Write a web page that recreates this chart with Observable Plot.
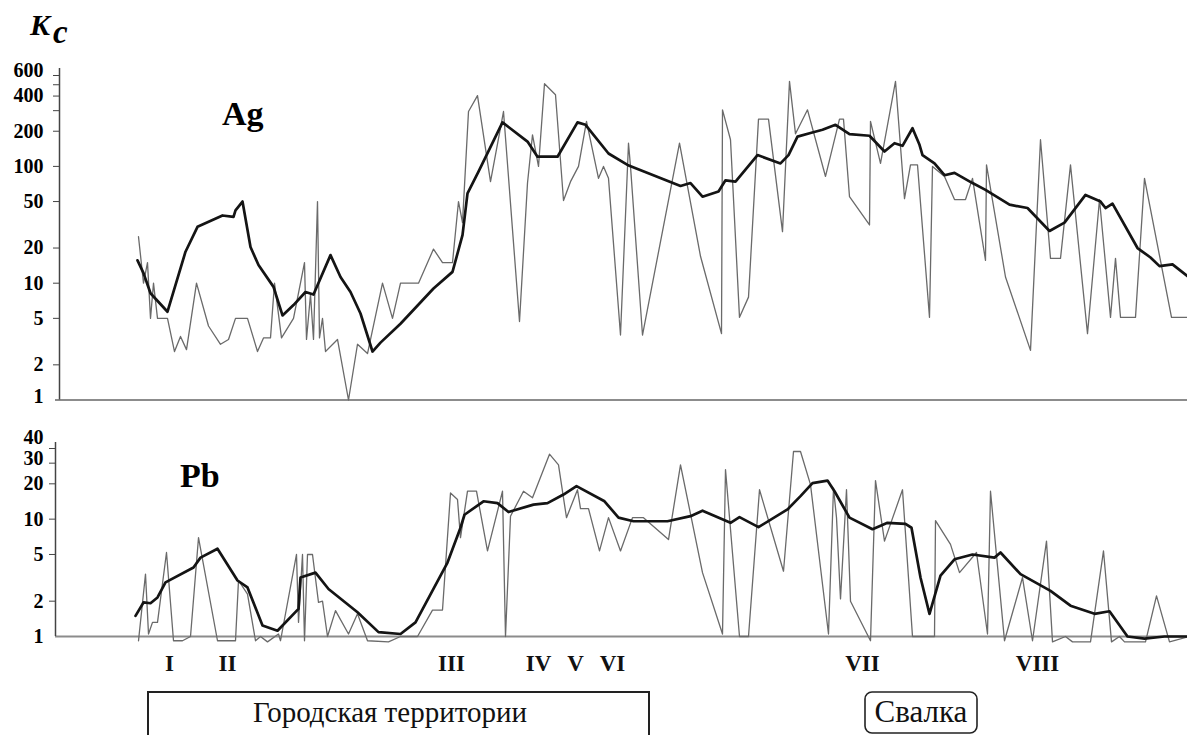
<!DOCTYPE html>
<html><head><meta charset="utf-8">
<script src="https://cdn.jsdelivr.net/npm/d3@7"></script>
<script src="https://cdn.jsdelivr.net/npm/@observablehq/plot@0.6"></script>
<style>
body{margin:0;background:#fff}
#wrap{position:relative;width:1187px;height:735px;overflow:hidden;background:#fff}
#wrap svg{position:absolute;left:0;overflow:visible}
</style></head><body><div id="wrap"></div>
<script>
// Profile position (arbitrary distance units along the sampling line)
const agThinX = [83,88,92,95,98,102,112,119,125,131,141,153,165,173,180,192,202,208,215,219,226,238,249,251,255,258,262,264,267,270,282,293,302,312,327,337,345,363,378,387,397,403,407,413,422,435,448,464,472,477,483,489,500,508,515,523,531,543,548,553,565,573,575,587,624,645,666,667,675,684,693,703,713,727,734,740,752,770,784,788,794,814,815,825,840,849,855,862,874,877,889,899,910,917,930,931,950,975,985,995,1005,1015,1032,1044,1055,1060,1065,1080,1089,1116,1132];
const agThinY = [25,10,15,5,10,5,5,2.6,3.5,2.7,10,4.3,3,3.3,5,5,2.6,3.4,3.4,10,3.4,5,15,3.3,8,3.3,50,3.4,5,2.6,3.3,1,3,2.5,10,5,10,10,19.6,15,15,50,33,295,403,74,295,4.7,72,186,100,510,410,51,74,100,243,79,100,79,3.6,158,100,3.6,158,17,3.7,305,169,5.1,7.6,254,254,27.6,535,190,305,82,254,254,55,31.5,243,106,535,53,103,103,5.1,100,82,52,52,79,15.7,103,11.3,2.66,169,16.3,16.3,103,3.7,52,5.1,16.3,5.1,5.1,79,5.1,5.1];

const agTrendX = [82,88,95,112,130,142,167,178,180,187,195,203,218,227,238,250,258,275,285,295,305,317,325,345,378,397,407,412,423,447,472,482,502,522,530,553,572,625,635,647,663,670,680,702,725,733,742,755,767,780,794,814,829,839,847,857,864,867,879,889,899,917,930,954,972,994,1009,1030,1045,1050,1057,1082,1095,1104,1117,1132];
const agTrendY = [15.7,12.2,8.2,5.7,18.6,30.4,38,37,42,50,20.4,14.3,9.3,5.3,6.5,8.4,8,17.4,11.3,8.4,5.5,2.6,3.1,4.5,9,12.5,25.8,58.8,90,238,163,121,121,238,227,129,103,68,72,55,61,76,74,125,106,125,180,193,206,227,189,183,134,158,150,212,153,125,106,84,88,72,63,47,44,28,33,57,50,44,48,20,16.6,14,14.5,11.5];

const pbThinX = [83,90,93,97,102,111,118,127,135,143,162,180,183,192,200,205,212,223,225,241,243,247,249,252,257,263,267,272,280,293,302,312,333,345,362,377,387,395,402,405,412,421,432,447,450,455,468,477,494,503,511,522,525,533,544,553,565,577,588,613,625,647,667,670,684,693,704,728,738,745,755,773,778,781,785,791,795,815,820,829,847,857,879,880,895,904,921,932,935,949,967,977,991,997,1010,1017,1035,1048,1056,1064,1069,1090,1101,1114,1132];
const pbThinY = [0.92,3.4,1.05,1.32,1.32,5.2,0.92,0.92,1.0,6.95,0.92,0.92,3.0,2.3,0.92,1.0,0.9,1.05,0.92,5.0,1.32,5,0.92,5,5,1.95,2.0,1.0,1.66,1.05,1.56,0.92,0.9,1.0,1.0,1.68,1.68,16.7,14.7,6.95,17.3,17.3,5.36,17.3,1.0,10.6,17.3,15.2,35.8,29,10.3,17.8,12.3,12.3,5.36,10.3,5.36,10.3,10.3,6.7,29,3.5,1.05,26.4,1.0,1.0,17.8,3.6,37.7,37.7,19.7,1.05,18.4,10.3,2.09,17.8,2.0,0.92,21.3,6.5,17.8,1.0,1.0,9.7,6.1,3.5,5.2,1.05,17.3,0.92,3.18,0.92,6.5,0.9,1.0,0.9,0.9,5.36,0.9,1.0,0.9,0.9,2.22,0.9,0.99];

const pbTrendX = [80,88,95,102,110,138,145,162,182,192,207,222,243,245,260,273,302,323,345,360,392,405,409,428,442,453,478,492,508,521,549,563,578,612,635,647,675,684,703,732,745,757,772,779,794,817,832,850,856,865,874,885,899,917,939,945,965,995,1015,1039,1054,1072,1089,1109,1132];
const pbTrendY = [1.5,1.95,1.92,2.15,2.89,3.87,4.7,5.6,3.0,2.62,1.24,1.12,1.72,3.18,3.5,2.54,1.61,1.09,1.05,1.32,4.27,8.45,10.9,14.2,13.7,11.5,13.3,13.7,16.2,19.1,14.2,10.3,9.6,9.6,10.6,11.8,9.3,10.4,8.55,12.1,15.7,20.3,21.3,17.3,10.3,8.2,9.3,9.1,8.45,3.18,1.56,3.3,4.55,5.0,4.7,5.2,3.4,2.45,1.83,1.56,1.64,1.0,0.96,1.0,1.0];

const siteLabels = ["I","II","III","IV","V","VI","VII","VIII"];
const siteX = [114,172,396,483,520,557,807,982];

const zoneNames = ["Городская территории","Свалка"];
const zoneStart = [93,810];
const zoneEnd = [594,922];

const agTicks = [2,5,10,20,50,100,200,300,400,500,600];
const agLabels = [1,2,5,10,20,50,100,200,400,600];
const pbTicks = [2,5,10,20,30,40];
const pbLabels = [1,2,5,10,20,30,40];

const xDomain = [0,1132];
const toRows = (xs, ys) => xs.map((x,i) => ({x, y: ys[i]}));

const serif = "'Liberation Serif','Times New Roman',serif";
const thin = {stroke:"#6a6a6a", strokeWidth:1.3, strokeLinejoin:"round"};
const thick = {stroke:"#141414", strokeWidth:2.7, strokeLinejoin:"round", strokeLinecap:"round"};
const baseStyle = {background:"transparent", overflow:"visible", fontFamily: serif, fontSize:"20px", color:"#000"};
// small vertical nudges so crowded top labels do not collide
const agNudge = d => d === 600 ? -5 : d === 1 ? -3 : 0;
const pbNudge = d => d === 40 ? -11 : d === 30 ? -5 : 0;
const labelOpts = {frameAnchor:"left", textAnchor:"end", fontWeight:"bold", fontSize:20, fill:"#000", fontFamily: serif};

const agPlot = Plot.plot({
  width:1187, height:420, marginLeft:55, marginRight:0, marginTop:75, marginBottom:20.5,
  x:{domain:xDomain, axis:null},
  y:{type:"log", domain:[1,600], axis:null},
  style: baseStyle,
  marks:[
    Plot.ruleY([1], {stroke:"#8c8c8c", strokeWidth:2.2}),
    Plot.ruleX([0], {y1:1, y2:690, dx:4, stroke:"#444", strokeWidth:1.5}),
    Plot.axisY(agTicks, {tickSize:6, tickFormat:() => "", dx:4, stroke:"#444", label:null}),
    ...agLabels.map(v => Plot.text([v], {y:d => d, text:d => String(d), dx:-12, dy:agNudge(v), ...labelOpts})),
    Plot.line(toRows(agThinX, agThinY), {x:"x", y:"y", ...thin}),
    Plot.line(toRows(agTrendX, agTrendY), {x:"x", y:"y", ...thick})
  ]
});
agPlot.style.top = "0px";

const pbPlot = Plot.plot({
  width:1187, height:315, marginLeft:55, marginRight:0, marginTop:28, marginBottom:99,
  x:{domain:xDomain, axis:null},
  y:{type:"log", domain:[1,40], axis:null},
  style: baseStyle,
  marks:[
    Plot.ruleY([1], {stroke:"#8c8c8c", strokeWidth:2.2}),
    Plot.ruleX([0], {y1:1, y2:45, stroke:"#444", strokeWidth:1.5}),
    Plot.axisY(pbTicks, {tickSize:6, tickFormat:() => "", stroke:"#444", label:null}),
    ...pbLabels.map(v => Plot.text([v], {y:d => d, text:d => String(d), dx:-12, dy:pbNudge(v), ...labelOpts})),
    Plot.line(toRows(pbThinX, pbThinY), {x:"x", y:"y", ...thin}),
    Plot.line(toRows(pbTrendX, pbTrendY), {x:"x", y:"y", ...thick}),
    Plot.text(siteLabels, {x:(d,i) => siteX[i], text:d => d, frameAnchor:"bottom", dy:34, fontSize:23, fontWeight:"bold", fill:"#111", fontFamily: serif})
  ]
});
pbPlot.style.top = "420px";

const wrap = document.getElementById("wrap");
wrap.appendChild(agPlot);
wrap.appendChild(pbPlot);

// annotation overlay
const xs = pbPlot.scale("x");
const svg = d3.select(wrap).append("svg")
  .attr("width",1187).attr("height",735)
  .style("top","0px");

const kc = svg.append("text").attr("x",30).attr("y",35).attr("font-family", serif)
  .attr("font-style","italic").attr("font-weight","bold").attr("font-size",30);
kc.append("tspan").text("K");
kc.append("tspan").attr("dx",3).attr("dy",8).attr("font-size",33).text("c");

svg.append("text").attr("x",222).attr("y",125).attr("font-family", serif).attr("font-weight","bold").attr("font-size",34).text("Ag");
svg.append("text").attr("x",180).attr("y",487).attr("font-family", serif).attr("font-weight","bold").attr("font-size",34).text("Pb");

const zoneG = svg.selectAll("g.zone").data(zoneNames).join("g");
zoneG.append("rect")
  .attr("x",(d,i) => xs.apply(zoneStart[i]))
  .attr("width",(d,i) => xs.apply(zoneEnd[i]) - xs.apply(zoneStart[i]))
  .attr("y",692)
  .attr("height",(d,i) => i === 0 ? 60 : 41)
  .attr("rx",(d,i) => i === 0 ? 0 : 7)
  .attr("fill","none").attr("stroke","#222").attr("stroke-width",(d,i) => i === 0 ? 2 : 1.6);
zoneG.append("text")
  .attr("x",(d,i) => i === 0 ? 390 : (xs.apply(zoneStart[i]) + xs.apply(zoneEnd[i])) / 2)
  .attr("y",722)
  .attr("text-anchor","middle")
  .attr("font-family", serif)
  .attr("font-size",(d,i) => i === 0 ? 29 : 31)
  .attr("fill","#111")
  .text(d => d);
</script>
</body></html>
